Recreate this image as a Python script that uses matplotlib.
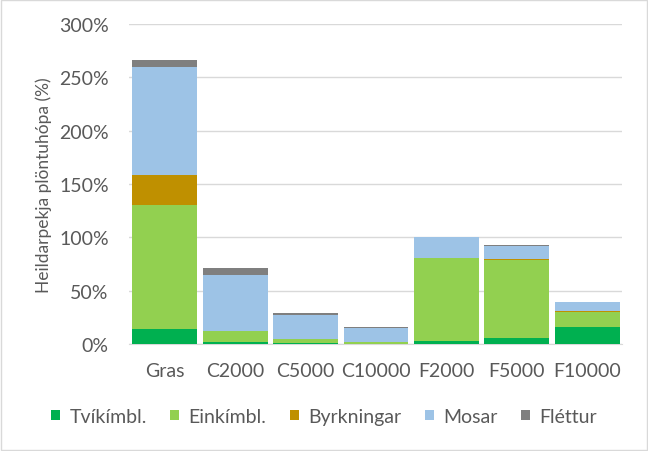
import matplotlib
matplotlib.use('Agg')
import matplotlib.pyplot as plt
import numpy as np
from matplotlib.patches import Rectangle
from matplotlib.ticker import FuncFormatter

categories = ['Gras', 'C2000', 'C5000', 'C10000', 'F2000', 'F5000', 'F10000']
tvikimbl = [14, 1.5, 0.5, 0.3, 3, 6, 16.2]
einkimbl = [116.5, 11, 4, 1.5, 77.6, 73, 14]
byrkningar = [28, 0, 0, 0, 0, 0.8, 0.8]
mosar = [101, 52, 23, 13.5, 19.4, 12.3, 8.7]
flettur = [7, 6.5, 2, 0.5, 0, 0.6, 0]

series = [('Tvíkímbl.', tvikimbl, '#00B050'),
          ('Einkímbl.', einkimbl, '#92D050'),
          ('Byrkningar', byrkningar, '#BF9000'),
          ('Mosar', mosar, '#9DC3E6'),
          ('Fléttur', flettur, '#7F7F7F')]

plt.rcParams['font.family'] = ['Lato', 'DejaVu Sans']
txt = '#595959'
fs = 14

fig = plt.figure(figsize=(6.48, 4.52), dpi=100)
ax = fig.add_axes([0.1998, 0.2367, 0.7608, 0.708])

x = np.arange(len(categories))
bottom = np.zeros(len(categories))
for name, vals, col in series:
    ax.bar(x, vals, 0.92, bottom=bottom, color=col, label=name, zorder=3)
    bottom += np.array(vals)

ax.set_xlim(-0.5, len(categories) - 0.5)
ax.set_ylim(0, 300)
ax.set_yticks(np.arange(0, 301, 50))
ax.yaxis.set_major_formatter(FuncFormatter(lambda v, p: '%d%%' % v))
ax.grid(axis='y', color='#D9D9D9', linewidth=1, zorder=0)
ax.set_xticks(x)
ax.set_xticklabels(categories)
for s in ['top', 'right', 'left']:
    ax.spines[s].set_visible(False)
ax.spines['bottom'].set_color('#D9D9D9')
ax.tick_params(axis='both', length=0, labelsize=fs, colors=txt)
ax.tick_params(axis='x', pad=13)
ax.tick_params(axis='y', pad=15)
ax.set_ylabel('Heildarpekja plöntuhópa (%)', fontsize=12.5, color=txt, labelpad=5)

fig.legend(loc='center', bbox_to_anchor=(0.5, 0.077), ncol=5, frameon=False,
           fontsize=fs, handlelength=0.45, handleheight=0.45, handletextpad=0.5,
           columnspacing=1.2, labelcolor=txt)

fig.patches.append(Rectangle((0.002, 0.002), 0.996, 0.996, transform=fig.transFigure,
                             fill=False, edgecolor='#D9D9D9', linewidth=1))

fig.savefig('out.png', dpi=100)
